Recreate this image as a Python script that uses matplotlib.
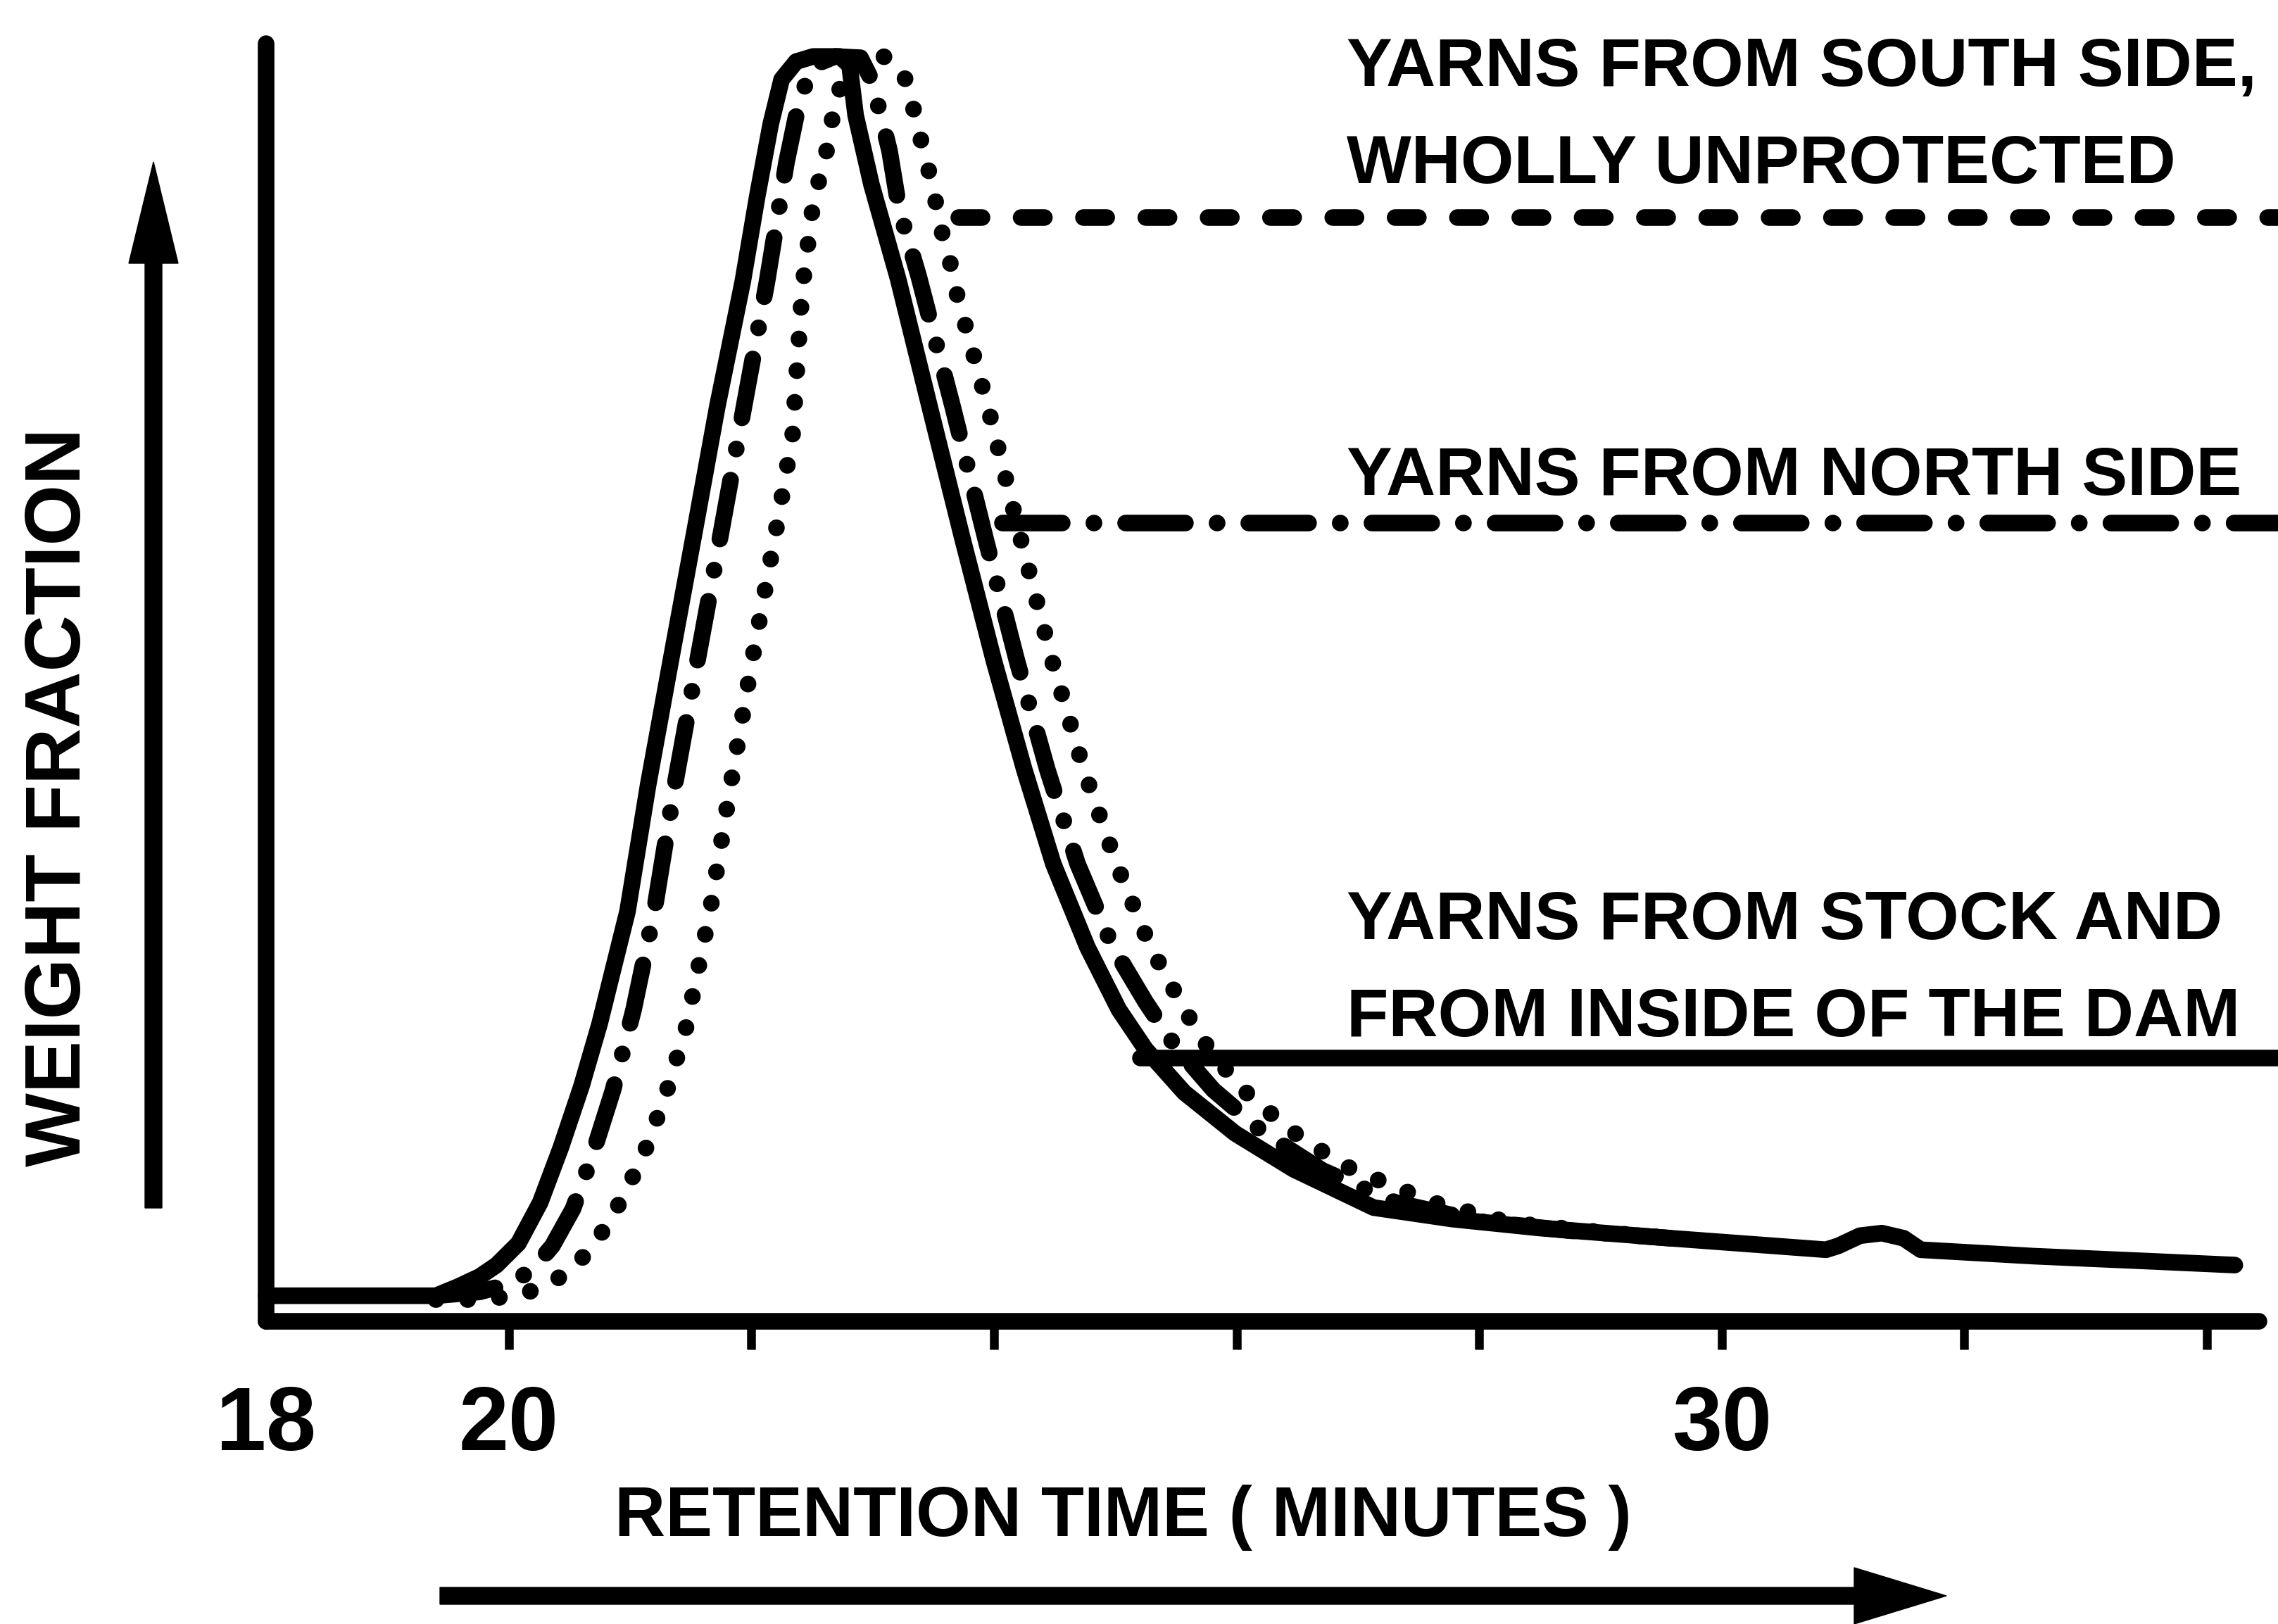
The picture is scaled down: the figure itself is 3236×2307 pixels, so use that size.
import matplotlib
matplotlib.use("Agg")
import matplotlib.pyplot as plt
import matplotlib.transforms as mtransforms
from matplotlib.patches import FancyArrow

plt.rcParams['font.family'] = ['Liberation Sans', 'DejaVu Sans']
plt.rcParams['font.weight'] = 'bold'

# --- data (retention time in minutes, weight fraction in arbitrary units 0-100) ---
stock_t = [18.00, 19.40, 19.58, 19.76, 19.90, 20.08, 20.26, 20.43, 20.60, 20.75,
           20.98, 21.15, 21.34, 21.53, 21.72, 21.93, 22.05, 22.16, 22.25, 22.37,
           22.51, 22.73, 22.81, 22.86, 22.99, 23.21, 23.47, 23.74, 24.00, 24.25,
           24.49, 24.77, 25.03, 25.25, 25.57, 25.99, 26.47, 27.13, 27.78, 28.50,
           29.58, 30.86, 30.96, 31.14, 31.32, 31.50, 31.64, 32.57, 33.53, 34.23]
stock_w = [2.0, 2.0, 2.7, 3.5, 4.4, 6.1, 9.3, 13.6, 18.4, 23.3,
           32.1, 42.0, 51.9, 61.7, 71.6, 81.4, 88.1, 93.7, 97.2, 98.6,
           99.0, 99.0, 98.3, 94.4, 89.0, 81.6, 71.6, 61.3, 51.7, 43.2,
           35.8, 29.3, 24.4, 21.3, 17.9, 14.7, 11.9, 8.9, 8.0, 7.3,
           6.5, 5.6, 5.9, 6.7, 6.9, 6.5, 5.6, 5.1, 4.7, 4.4]

north_t = [19.40, 19.76, 20.00, 20.19, 20.36, 20.53, 20.69, 20.86, 21.03, 21.20,
           21.37, 21.56, 21.75, 21.94, 22.13, 22.29, 22.40, 22.51, 22.69, 22.90,
           22.99, 23.07, 23.14, 23.22, 23.38, 23.66, 23.93, 24.19, 24.44, 24.69,
           24.98, 25.25, 25.49, 25.81, 26.23, 26.71, 27.31, 28.02, 28.74, 29.58]
north_w = [2.0, 2.3, 2.9, 4.0, 5.9, 8.8, 13.0, 18.1, 24.4, 32.1,
           42.0, 51.9, 61.7, 71.6, 81.4, 90.7, 95.7, 98.3, 99.0, 98.9,
           97.2, 94.3, 91.6, 87.0, 81.8, 71.6, 61.3, 51.7, 43.2, 35.8,
           29.3, 25.0, 21.6, 18.1, 14.7, 11.8, 9.3, 7.8, 7.1, 6.5]

south_t = [19.40, 19.76, 20.06, 20.30, 20.54, 20.74, 20.93, 21.11, 21.29, 21.46,
           21.66, 21.83, 22.01, 22.20, 22.34, 22.42, 22.51, 22.65, 22.68, 22.79,
           22.96, 23.14, 23.28, 23.35, 23.41, 23.47, 23.53, 23.58, 23.65, 23.70,
           23.95, 24.22, 24.48, 24.74, 25.01, 25.29, 25.57, 25.80, 26.11, 26.55,
           26.95, 27.62, 28.26, 28.98, 29.58]
south_w = [1.7, 1.7, 2.0, 2.7, 4.2, 6.5, 9.5, 13.0, 17.6, 22.9,
           32.1, 42.0, 51.9, 61.7, 69.3, 80.8, 87.5, 92.7, 95.2, 98.0,
           99.2, 98.9, 97.1, 94.4, 92.0, 89.8, 87.2, 84.9, 82.5, 80.2,
           71.6, 61.3, 51.7, 43.2, 35.8, 29.3, 24.4, 20.9, 17.6, 14.2,
           11.9, 9.3, 7.7, 7.0, 6.5]

xticks = [20, 22, 24, 26, 28, 30, 32, 34]
xtick_labels = ['18', '20', '30']
xtick_label_pos = [18, 20, 30]

labels = [["YARNS FROM SOUTH SIDE,", "WHOLLY UNPROTECTED"],
          ["YARNS FROM NORTH SIDE"],
          ["YARNS FROM STOCK AND", "FROM INSIDE OF THE DAM"]]
label_base = [[96.7, 89.1], [64.7], [29.9, 22.3]]
leader_y = [86.4, 62.5, 20.6]
leader_x0 = [23.71, 24.07, 25.21]

LW = 17

fig = plt.figure(figsize=(32.36, 23.07), dpi=100)
ax = fig.add_axes([0.1168, 0.1864, 0.8749, 0.7867])
ax.set_xlim(18, 34.43)
ax.set_ylim(0, 100)

dotted = dict(color='k', lw=LW, dashes=(0.01, 1.9), dash_capstyle='round', clip_on=False)
dashdot = dict(color='k', lw=LW, dashes=(3.6, 1.9, 0.01, 1.9), dash_capstyle='round', clip_on=False)
solid = dict(color='k', lw=LW, solid_capstyle='round', solid_joinstyle='round', clip_on=False)
dashed = dict(color='k', lw=LW, dashes=(1.4, 2.35), dash_capstyle='round', clip_on=False)

ax.plot(south_t, south_w, **dotted)
ax.plot(north_t, north_w, **dashdot)
ax.plot(stock_t, stock_w, **solid)

# leader lines to the labels
ax.plot([leader_x0[0], 34.8], [leader_y[0]] * 2, **dashed)
ax.plot([leader_x0[1], 34.8], [leader_y[1]] * 2, **dashdot)
ax.plot([leader_x0[2], 34.8], [leader_y[2]] * 2, **solid)

for lines, bases in zip(labels, label_base):
    for txt, b in zip(lines, bases):
        ax.text(26.91, b, txt, fontsize=70, fontweight='bold', ha='left', va='baseline')

# axes styling
for s in ['top', 'right']:
    ax.spines[s].set_visible(False)
for s in ['left', 'bottom']:
    ax.spines[s].set_linewidth(17)
    ax.spines[s].set_capstyle('round')
ax.set_yticks([])
ax.set_xticks(xticks)
ax.tick_params(axis='x', direction='out', length=29, width=9, labelbottom=False)

trans = mtransforms.blended_transform_factory(ax.transData, fig.transFigure)
for lab, pos in zip(xtick_labels, xtick_label_pos):
    ax.text(pos, 0.1071, lab, transform=trans, fontsize=92, fontweight='bold',
            ha='center', va='baseline')

fig.text(0.4930, 0.0542, "RETENTION TIME ( MINUTES )", fontsize=72,
         fontweight='bold', ha='center', va='baseline')
fig.text(0.0263, 0.5093, "WEIGHT FRACTION", fontsize=80, fontweight='bold',
         rotation=90, ha='center', va='center')

# direction arrows
fig.add_artist(FancyArrow(6.25, 0.40, 21.40, 0, width=0.24, head_width=0.80,
                          head_length=1.31, length_includes_head=True,
                          color='k', transform=fig.dpi_scale_trans))
fig.add_artist(FancyArrow(2.18, 5.91, 0, 14.86, width=0.24, head_width=0.70,
                          head_length=1.44, length_includes_head=True,
                          color='k', transform=fig.dpi_scale_trans))

fig.savefig('out.png', dpi=100)
